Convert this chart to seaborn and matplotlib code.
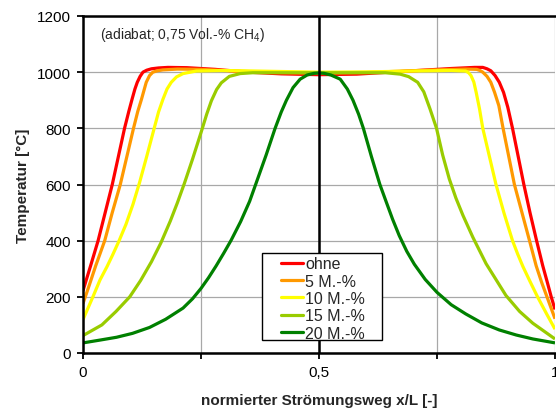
import matplotlib
matplotlib.use("Agg")
import matplotlib.pyplot as plt
from matplotlib.patches import Rectangle
import seaborn as sns
import pandas as pd

# ---- data ----
labels = ["ohne", "5 M.-%", "10 M.-%", "15 M.-%", "20 M.-%"]
colors = ["#ff0000", "#ff9900", "#ffff00", "#99cc00", "#008000"]

red_x = [0, 0.016, 0.032, 0.047, 0.062, 0.075, 0.088, 0.097, 0.104, 0.110, 0.115, 0.121, 0.127,
         0.135, 0.145, 0.160, 0.18, 0.22, 0.28, 0.35, 0.42, 0.50, 0.58, 0.65, 0.72, 0.78, 0.83,
         0.847, 0.856, 0.864, 0.873, 0.882, 0.891, 0.900, 0.910, 0.922, 0.934, 0.947, 0.961,
         0.974, 0.984, 0.992, 1.0]
red_T = [222, 310, 400, 500, 600, 700, 800, 860, 904, 940, 964, 985, 1000,
         1007, 1012, 1015, 1017, 1016, 1010, 1000, 994, 991, 993, 1000, 1007, 1013, 1017,
         1017, 1012, 1005, 988, 964, 928, 875, 800, 700, 600, 500, 400,
         311, 250, 200, 155]

orange_x = [0, 0.013, 0.027, 0.046, 0.062, 0.079, 0.093, 0.107, 0.116, 0.124, 0.134, 0.141, 0.148,
            0.158, 0.169, 0.20, 0.25, 0.32, 0.40, 0.50, 0.60, 0.68, 0.76, 0.81, 0.834, 0.841,
            0.847, 0.856, 0.864, 0.872, 0.881, 0.890, 0.902, 0.914, 0.930, 0.946, 0.960, 0.972,
            0.983, 1.0]
orange_T = [176, 240, 311, 400, 500, 600, 700, 800, 860, 904, 964, 988, 1000,
            1005, 1008, 1011, 1010, 1004, 999, 997, 999, 1004, 1009, 1011, 1010, 1006,
            1000, 985, 964, 928, 881, 800, 700, 600, 500, 400, 311, 250,
            200, 122]

yellow_x = [0, 0.021, 0.036, 0.051, 0.063, 0.076, 0.091, 0.106, 0.120, 0.135, 0.150, 0.160, 0.1695,
            0.178, 0.187, 0.198, 0.212, 0.240, 0.30, 0.40, 0.50, 0.60, 0.70, 0.78, 0.811, 0.817,
            0.822, 0.828, 0.833, 0.840, 0.847, 0.861, 0.875, 0.892, 0.910, 0.921, 0.932, 0.947,
            0.963, 0.982, 1.0]
yellow_T = [119, 200, 260, 308, 350, 398, 458, 530, 608, 700, 795, 858, 904,
            940, 964, 983, 995, 1004, 1006, 1003, 1000, 1001, 1004, 1006, 1004, 998,
            988, 965, 928, 870, 800, 700, 600, 498, 400, 352, 308, 255,
            200, 140, 85]

lgreen_x = [0, 0.040, 0.070, 0.099, 0.122, 0.145, 0.165, 0.185, 0.200, 0.215, 0.232, 0.251, 0.262,
            0.272, 0.283, 0.293, 0.310, 0.333, 0.36, 0.50, 0.64, 0.672, 0.690, 0.709, 0.722,
            0.735, 0.749, 0.762, 0.776, 0.790, 0.805, 0.826, 0.854, 0.896, 0.925, 0.953, 1.0]
lgreen_T = [62, 100, 148, 200, 258, 325, 392, 470, 535, 605, 690, 790, 850,
            898, 938, 962, 985, 995, 998, 998, 998, 993, 984, 964, 930,
            870, 800, 705, 620, 552, 490, 412, 318, 205, 148, 106, 50]

dgreen_x = [0, 0.036, 0.071, 0.105, 0.141, 0.175, 0.212, 0.232, 0.250, 0.266, 0.282, 0.298, 0.314,
            0.334, 0.353, 0.370, 0.388, 0.407, 0.420, 0.431, 0.445, 0.460, 0.475, 0.490, 0.500,
            0.510, 0.525, 0.545, 0.560, 0.572, 0.584, 0.594, 0.611, 0.629, 0.642, 0.656, 0.670,
            0.686, 0.702, 0.725, 0.750, 0.780, 0.811, 0.845, 0.882, 0.918, 0.953, 1.0]
dgreen_T = [36, 46, 56, 70, 91, 120, 160, 193, 230, 268, 310, 355, 402,
            468, 540, 620, 705, 800, 858, 900, 945, 975, 990, 996, 997,
            996, 990, 975, 940, 900, 850, 800, 700, 600, 540, 476, 418,
            362, 316, 262, 216, 172, 139, 107, 82, 64, 50, 36]

xtick_pos = [0, 0.25, 0.5, 0.75, 1]
xtick_labels = ["0", "", "0,5", "", "1"]
ytick_pos = [0, 200, 400, 600, 800, 1000, 1200]

series_x = [red_x, orange_x, yellow_x, lgreen_x, dgreen_x]
series_T = [red_T, orange_T, yellow_T, lgreen_T, dgreen_T]
frames = []
for lab, xs, ts in zip(labels, series_x, series_T):
    frames.append(pd.DataFrame({"x": xs, "T": ts, "Serie": lab}))
df = pd.concat(frames, ignore_index=True)

# ---- style ----
sns.set_style("white")
plt.rcParams["font.family"] = ["Liberation Sans", "DejaVu Sans"]
plt.rcParams["mathtext.fontset"] = "custom"
plt.rcParams["mathtext.rm"] = "Liberation Sans"
plt.rcParams["mathtext.it"] = "Liberation Sans:italic"

fig = plt.figure(figsize=(5.56, 4.10), dpi=100)
ax = fig.add_axes([83 / 556, 56 / 410, 472 / 556, 337 / 410])

sns.lineplot(data=df, x="x", y="T", hue="Serie", hue_order=labels,
             palette=colors, sort=False, estimator=None, linewidth=2.3, ax=ax, zorder=2)
for ln in ax.lines:
    ln.set_solid_joinstyle("round")
    ln.set_solid_capstyle("butt")

ax.set_xlim(0, 1)
ax.set_ylim(0, 1200)
ax.set_xticks(xtick_pos)
ax.set_xticklabels(xtick_labels)
ax.set_yticks(ytick_pos)

ax.grid(True, color="#a8a8a8", linewidth=0.9)
ax.set_axisbelow(True)
ax.axvline(0.5, color="black", linewidth=1.8, zorder=3)

for side in ["left", "bottom", "top"]:
    ax.spines[side].set_visible(True)
    ax.spines[side].set_color("black")
    ax.spines[side].set_linewidth(1.8)
ax.spines["right"].set_visible(False)

ax.tick_params(axis="both", direction="out", length=4.5, width=1.3, colors="black",
               labelsize=11, pad=4, bottom=True, left=True)

ax.set_xlabel("normierter Strömungsweg x/L [-]", fontsize=11, fontweight="bold", labelpad=10)
ax.set_ylabel("Temperatur [°C]", fontsize=11, fontweight="bold", labelpad=5)

ax.text(0.036, 0.947, "(adiabat; 0,75 Vol.-% CH$_4$)", transform=ax.transAxes,
        fontsize=10, va="center", ha="left")

# legend: frame drawn as a box, entries placed inside it
ax.add_patch(Rectangle((0.379, 0.0386), 0.254, 0.258, transform=ax.transAxes,
                       facecolor="white", edgecolor="black", linewidth=1.0, zorder=4))
old = ax.get_legend()
handles = old.legend_handles
leg_labels = [t.get_text() for t in old.get_texts()]
leg = ax.legend(handles, leg_labels, loc="lower left", bbox_to_anchor=(0.4195, 0.036),
                borderaxespad=0, fontsize=11.5, frameon=False, borderpad=0.0,
                labelspacing=0.15, handlelength=1.38, handletextpad=0.15)
for h in leg.legend_handles:
    h.set_linewidth(2.3)
leg.set_zorder(5)

fig.savefig("out.png", dpi=100)
